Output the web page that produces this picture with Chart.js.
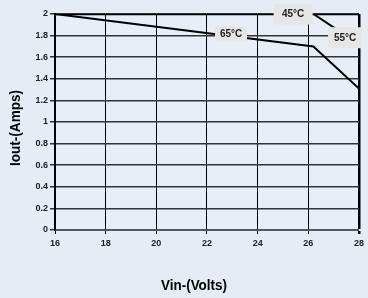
<!DOCTYPE html>
<html><head><meta charset="utf-8">
<script src="https://cdn.jsdelivr.net/npm/chart.js@4.4.0/dist/chart.umd.min.js"></script>
<style>html,body{margin:0;padding:0;background:#E6ECF5;}#wrap{width:368px;height:298px;}</style>
</head><body><div id="wrap"><canvas id="c" width="368" height="298"></canvas></div>
<script>
const xTicks = [16, 18, 20, 22, 24, 26, 28];
const yTicks = [0, 0.2, 0.4, 0.6, 0.8, 1, 1.2, 1.4, 1.6, 1.8, 2];
const vin45 = [16, 28];
const iout45 = [2, 2];
const vin55 = [16, 26.2, 28];
const iout55 = [2, 2, 1.72];
const vin65 = [16, 26.2, 28];
const iout65 = [2, 1.70, 1.31];
const seriesNames = ['45°C', '55°C', '65°C'];
const labelX = [25.4, 27.45, 22.95];
const labelY = [2, 1.78, 1.815];
const xTitle = 'Vin-(Volts)';
const yTitle = 'Iout-(Amps)';

const pts = (xs, ys) => xs.map((x, i) => ({x, y: ys[i]}));
const boxes = [{w: 39, h: 21}, {w: 34, h: 21}, {w: 32, h: 15}];

function condensedText(ctx, text, x, y, targetW) {
  const w = ctx.measureText(text).width;
  const s = Math.min(1, targetW / w);
  ctx.save();
  ctx.translate(x, y);
  ctx.scale(s, 1);
  ctx.fillText(text, 0, 0);
  ctx.restore();
}

const bgPlugin = {
  id: 'bg',
  beforeDraw(chart) {
    const ctx = chart.ctx;
    ctx.save();
    ctx.fillStyle = '#E6ECF5';
    ctx.fillRect(0, 0, chart.width, chart.height);
    const a = chart.chartArea;
    ctx.fillStyle = '#E8EEF8';
    ctx.fillRect(a.left, a.top, a.right - a.left, a.bottom - a.top);
    ctx.restore();
  },
  afterDraw(chart) {
    const ctx = chart.ctx;
    const xs = chart.scales.x, ys = chart.scales.y;
    ctx.save();
    ctx.font = 'bold 10px "Liberation Sans", Arial, sans-serif';
    ctx.textAlign = 'center';
    ctx.textBaseline = 'middle';
    seriesNames.forEach((n, i) => {
      const cx = xs.getPixelForValue(labelX[i]);
      const cy = ys.getPixelForValue(labelY[i]);
      const b = boxes[i];
      ctx.fillStyle = '#E6E6E6';
      ctx.fillRect(cx - b.w / 2, cy - b.h / 2, b.w, b.h);
      ctx.fillStyle = '#222';
      ctx.fillText(n, cx, cy + 0.5);
    });
    ctx.fillStyle = '#000';
    ctx.font = 'bold 14px "Liberation Sans", Arial, sans-serif';
    condensedText(ctx, xTitle, 194, 286, 66);
    ctx.save();
    ctx.translate(16, 128);
    ctx.rotate(-Math.PI / 2);
    condensedText(ctx, yTitle, 0, 0, 76);
    ctx.restore();
    ctx.restore();
  }
};

new Chart(document.getElementById('c'), {
  type: 'line',
  data: {
    datasets: [
      {label: seriesNames[0], data: pts(vin45, iout45), borderColor: '#000', borderWidth: 2.5, pointRadius: 0, tension: 0},
      {label: seriesNames[1], data: pts(vin55, iout55), borderColor: '#000', borderWidth: 2, pointRadius: 0, tension: 0},
      {label: seriesNames[2], data: pts(vin65, iout65), borderColor: '#000', borderWidth: 2, pointRadius: 0, tension: 0}
    ]
  },
  options: {
    responsive: false,
    animation: false,
    devicePixelRatio: 1,
    layout: {padding: {top: 14, right: 4, left: 0, bottom: 0}},
    plugins: {legend: {display: false}, tooltip: {enabled: false}},
    scales: {
      x: {
        type: 'linear', min: 16, max: 28,
        afterBuildTicks(s) { s.ticks = xTicks.map(v => ({value: v})); },
        afterFit(s) { s.height = 68; },
        ticks: {color: '#222', font: {family: '"Liberation Sans", Arial, sans-serif', size: 9, weight: 'bold'}, padding: 4, maxRotation: 0},
        grid: {
          color: '#000',
          lineWidth: ctx => (ctx.tick && ctx.tick.value === 28) ? 2.5 : 1,
          tickLength: 4, drawTicks: true
        },
        border: {display: true, color: '#555', width: 2}
      },
      y: {
        min: 0, max: 2,
        afterBuildTicks(s) { s.ticks = yTicks.map(v => ({value: v})); },
        afterFit(s) { s.width = 55; },
        ticks: {color: '#222', font: {family: '"Liberation Sans", Arial, sans-serif', size: 9, weight: 'bold'}, padding: 2,
          callback: v => String(v)},
        grid: {color: '#333', lineWidth: 1.5, tickLength: 5},
        border: {display: true, color: '#000', width: 2}
      }
    }
  },
  plugins: [bgPlugin]
});
</script></body></html>
